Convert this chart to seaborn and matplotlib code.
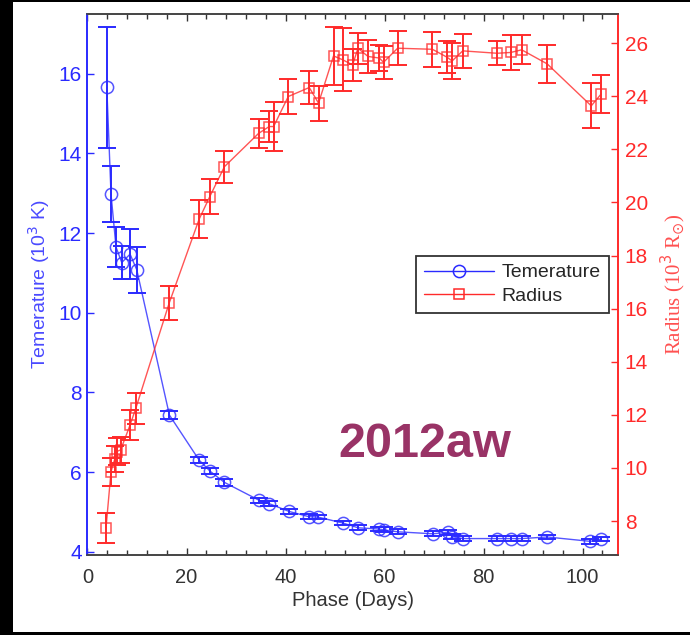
import matplotlib
matplotlib.use("Agg")
import matplotlib.pyplot as plt
from matplotlib.patches import Rectangle
from matplotlib.ticker import MultipleLocator
import seaborn as sns

# Photospheric temperature (10^3 K) versus phase (days)
temp_day = [3.9, 4.75, 5.76, 6.92, 8.6, 9.95, 16.55, 22.55, 24.77, 27.67,
            34.68, 36.64, 40.75, 44.73, 46.55, 51.6, 54.7, 58.9, 59.8, 62.65,
            69.8, 72.76, 73.65, 75.8, 82.75, 85.6, 87.7, 92.86, 101.6, 103.8]
temp_val = [15.66, 12.98, 11.65, 11.26, 11.47, 11.08, 7.43, 6.30, 6.02, 5.74,
            5.29, 5.21, 5.01, 4.88, 4.87, 4.72, 4.60, 4.57, 4.55, 4.50,
            4.45, 4.49, 4.38, 4.33, 4.33, 4.33, 4.33, 4.37, 4.26, 4.32]
temp_err = [1.52, 0.71, 0.49, 0.41, 0.63, 0.58, 0.10, 0.08, 0.08, 0.08,
            0.07, 0.07, 0.07, 0.06, 0.06, 0.06, 0.06, 0.06, 0.06, 0.06,
            0.06, 0.06, 0.06, 0.06, 0.06, 0.06, 0.06, 0.06, 0.06, 0.06]

# Photospheric radius (10^3 R_sun) versus phase (days)
rad_day = [3.74, 4.75, 5.5, 5.9, 6.7, 8.6, 9.75, 16.5, 22.55, 24.7,
           27.67, 34.55, 36.7, 37.6, 40.55, 44.8, 46.67, 49.7, 51.6, 53.55,
           54.64, 56.66, 58.95, 59.8, 62.65, 69.67, 72.64, 73.65, 75.8, 82.75,
           85.5, 87.7, 92.86, 101.76, 103.78]
rad_val = [7.74, 9.86, 10.33, 10.62, 10.68, 11.62, 12.24, 16.21, 19.37, 20.22,
           21.35, 22.60, 22.86, 22.86, 23.99, 24.33, 23.74, 25.52, 25.37, 25.18,
           25.81, 25.50, 25.44, 25.28, 25.81, 25.77, 25.47, 25.33, 25.71, 25.62,
           25.65, 25.75, 25.22, 23.64, 24.09]
rad_err = [0.55, 0.53, 0.5, 0.5, 0.5, 0.55, 0.6, 0.65, 0.72, 0.66,
           0.60, 0.56, 0.58, 0.93, 0.65, 0.63, 0.66, 1.10, 1.19, 0.59,
           0.59, 0.61, 0.50, 0.62, 0.65, 0.66, 0.61, 0.67, 0.65, 0.46,
           0.67, 0.55, 0.71, 0.85, 0.72]

BLUE = "#2a2aff"
RED = "#ff2a2a"

sns.set_theme(style="ticks")
plt.rcParams["font.family"] = ["Liberation Sans", "DejaVu Sans"]
plt.rcParams["xtick.direction"] = "in"
plt.rcParams["ytick.direction"] = "in"

fig = plt.figure(figsize=(6.9, 6.35), dpi=100)
fig.patch.set_facecolor("black")
fig.patches.append(Rectangle((13 / 690, 3 / 635), 1 - 13 / 690, 630 / 635,
                             transform=fig.transFigure, facecolor="white",
                             edgecolor="none", zorder=-10))

ax = fig.add_axes([0.1268, 0.1255, 0.7684, 0.8525])
ax.set_facecolor("white")
ax2 = ax.twinx()

# Temperature curve
sns.lineplot(x=temp_day, y=temp_val, ax=ax, sort=False, color=BLUE, lw=1.0,
             marker="o", markersize=8.8, markerfacecolor="none",
             markeredgecolor=BLUE, markeredgewidth=1.1, alpha=0.8,
             label="Temerature", legend=False)
ax.errorbar(temp_day, temp_val, yerr=temp_err, fmt="none", ecolor=BLUE,
            elinewidth=1.4, capsize=6.5, capthick=1.4)

# Radius curve
sns.lineplot(x=rad_day, y=rad_val, ax=ax2, sort=False, color=RED, lw=1.0,
             marker="s", markersize=7.5, markerfacecolor="none",
             markeredgecolor=RED, markeredgewidth=1.1, alpha=0.8,
             label="Radius", legend=False)
ax2.errorbar(rad_day, rad_val, yerr=rad_err, fmt="none", ecolor=RED,
             elinewidth=1.4, capsize=6.5, capthick=1.4)

ax.set_xlim(0, 107.1)
ax.set_ylim(3.91, 17.5)
ax2.set_ylim(6.71, 27.1)

ax.xaxis.set_major_locator(MultipleLocator(20))
ax.xaxis.set_minor_locator(MultipleLocator(4))
ax.set_yticks([4, 6, 8, 10, 12, 14, 16])
ax2.set_yticks([8, 10, 12, 14, 16, 18, 20, 22, 24, 26])

ax.tick_params(axis="x", which="both", top=True, colors="#333333",
               labelcolor="#333333", labelsize=14.5, pad=9)
ax.tick_params(axis="x", which="major", length=5, width=1)
ax.tick_params(axis="x", which="minor", length=3.5, width=1)
ax.tick_params(axis="y", colors=BLUE, labelcolor=BLUE, labelsize=15,
               length=5, width=1, pad=4)
ax2.tick_params(axis="y", colors=RED, labelcolor=RED, labelsize=15,
                length=5, width=1, pad=5)
ax2.tick_params(axis="x", which="both", top=False, bottom=False)

for a in (ax, ax2):
    for s in a.spines.values():
        s.set_visible(True)
        s.set_linewidth(1.2)
    a.spines["top"].set_color("#444444")
    a.spines["bottom"].set_color("#444444")
    a.spines["left"].set_color(BLUE)
    a.spines["right"].set_color(RED)

ax.set_xlabel("Phase (Days)", fontsize=14.5, color="#333333", labelpad=3)
ax.set_ylabel("Temerature (10$^3$ K)", fontsize=14, color="#4a4aff", labelpad=5)
ax2.set_ylabel(r"Radius (10$^3$ R$_{\odot}$)", fontsize=15, color="#ff5050",
               family="Liberation Serif", labelpad=8)

ax.text(50.7, 6.39, "2012aw", fontsize=35, fontweight="bold", color="#993366",
        ha="left", va="baseline")

h1, l1 = ax.get_legend_handles_labels()
h2, l2 = ax2.get_legend_handles_labels()
leg = ax2.legend(h1 + h2, l1 + l2, loc="upper left",
                 bbox_to_anchor=(0.62, 0.553), borderaxespad=0,
                 fontsize=14, frameon=True, fancybox=False, handlelength=3.6,
                 handletextpad=0.4, labelspacing=0.3, borderpad=0.4)
leg.get_frame().set_edgecolor("black")
leg.get_frame().set_linewidth(1.3)
for h in leg.legend_handles:
    h.set_alpha(1)

fig.savefig("out.png", dpi=100, facecolor=fig.get_facecolor())
